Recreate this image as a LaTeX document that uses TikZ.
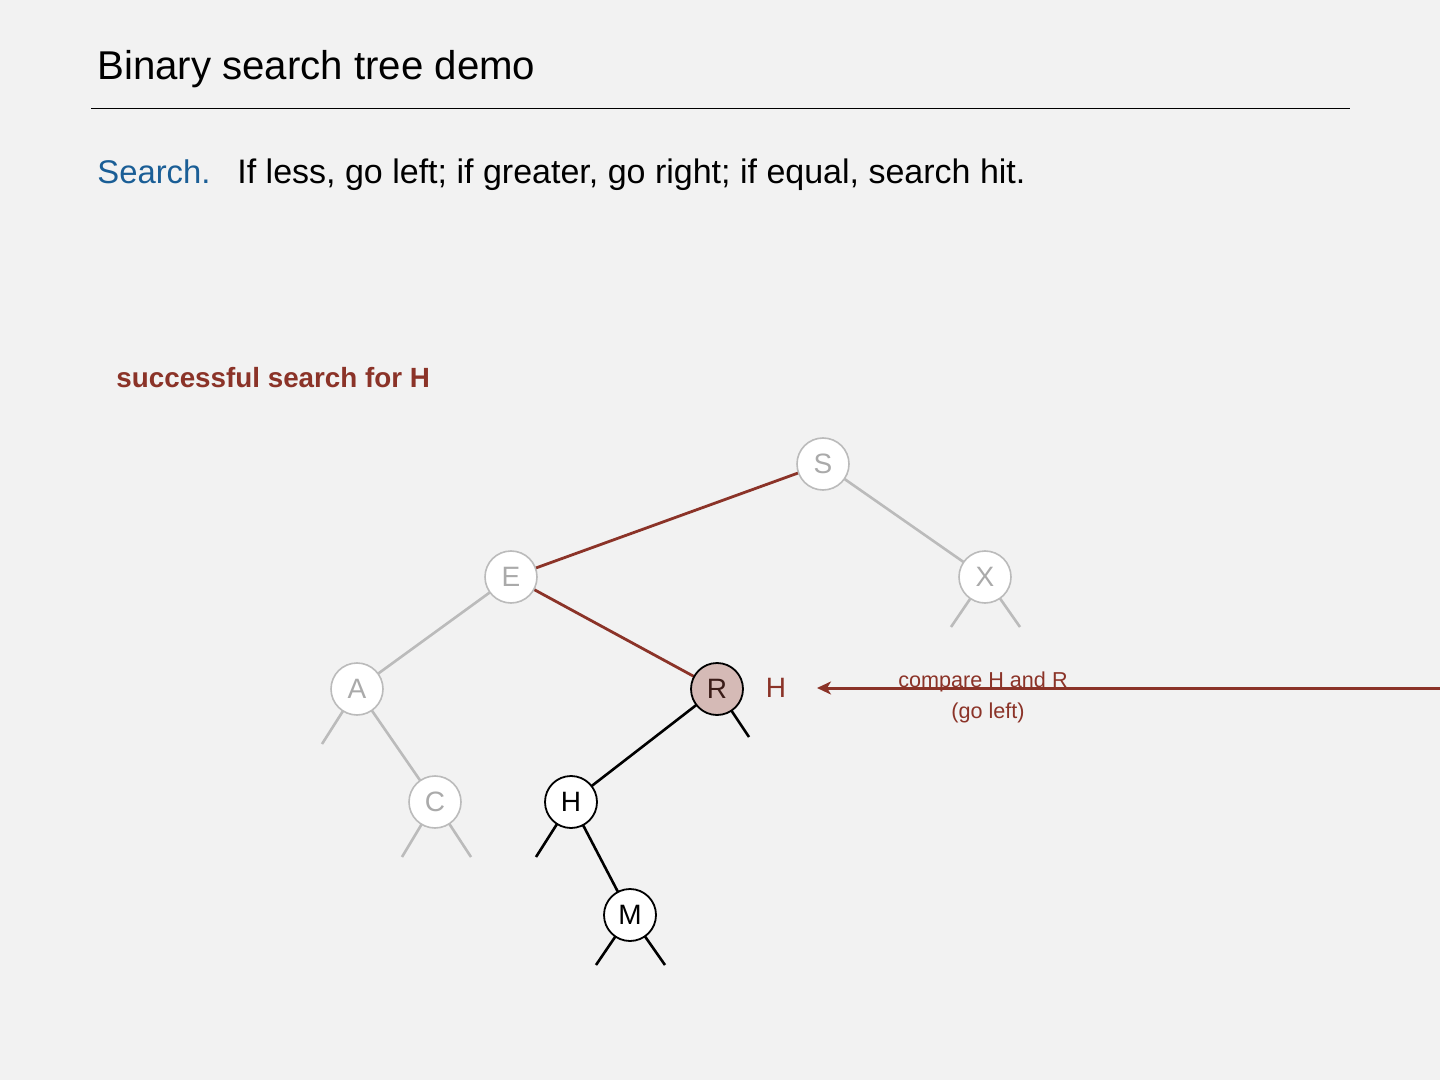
\documentclass[tikz,border=0pt]{standalone}
\usepackage{fontspec}
\setmainfont{Liberation Sans}
\usetikzlibrary{arrows.meta}
\definecolor{bg}{HTML}{F2F2F2}
\definecolor{bstred}{HTML}{8B3328}
\definecolor{bstblue}{HTML}{1A5E96}
\definecolor{lgray}{HTML}{BBBBBB}
\definecolor{tgray}{HTML}{AAAAAA}
\definecolor{rfill}{HTML}{D5BAB6}
\definecolor{rtext}{HTML}{3A1C18}
\tikzset{
  faded/.style={circle,draw=lgray,line width=0.8pt,fill=white,text=tgray,minimum size=26pt,inner sep=0pt,font=\fontsize{14}{14}\selectfont},
  active/.style={circle,draw=black,line width=0.9pt,fill=white,text=black,minimum size=26pt,inner sep=0pt,font=\fontsize{14}{14}\selectfont},
  current/.style={active,fill=rfill,text=rtext},
  grayedge/.style={draw=lgray,line width=1.3pt},
  blackedge/.style={draw=black,line width=1.3pt},
  rededge/.style={draw=bstred,line width=1.4pt},
}
\begin{document}
\begin{tikzpicture}[x=0.5pt,y=-0.5pt]
\fill[bg] (0,0) rectangle (1440,1080);
\useasboundingbox (0,0) rectangle (1440,1080);
% header
\node[anchor=base west,inner sep=0pt,font=\fontsize{20.1}{20.1}\selectfont] (title) at (97,80) {Binary search tree demo};
\coordinate (ruleL) at (91,109);
\coordinate (ruleR) at (1350,109);
\draw[line width=0.5pt] (ruleL) -- (ruleR);
\node[anchor=base west,inner sep=0pt,font=\fontsize{16.4}{16.4}\selectfont,text=bstblue] (srch) at (97,184) {Search.};
\node[anchor=base west,inner sep=0pt,font=\fontsize{17}{17}\selectfont] (rule) at (237,184) {If less, go left; if greater, go right; if equal, search hit.};
\node[anchor=base west,inner sep=0pt,font=\bfseries\fontsize{13.9}{13.9}\selectfont,text=bstred] (cap) at (116,388) {successful search for H};
% edges first (nodes drawn on top)
\coordinate (pS) at (823,464);
\coordinate (pE) at (511,577);
\coordinate (pX) at (985,577);
\coordinate (pA) at (357,689);
\coordinate (pR) at (717,689);
\coordinate (pC) at (435,802);
\coordinate (pH) at (571,802);
\coordinate (pM) at (630,915);
\coordinate (xl) at (951,627);
\coordinate (xr) at (1020,627);
\coordinate (al) at (322,744);
\coordinate (rr) at (749,737);
\coordinate (cl) at (402,857);
\coordinate (cr) at (471,857);
\coordinate (hl) at (536,857);
\coordinate (ml) at (596,965);
\coordinate (mr) at (665,965);
\draw[rededge] (pS) -- (pE);
\draw[grayedge] (pS) -- (pX);
\draw[grayedge] (pE) -- (pA);
\draw[rededge] (pE) -- (pR);
\draw[grayedge] (pA) -- (pC);
\draw[blackedge] (pR) -- (pH);
\draw[blackedge] (pH) -- (pM);
\draw[grayedge] (pX) -- (xl);
\draw[grayedge] (pX) -- (xr);
\draw[grayedge] (pA) -- (al);
\draw[blackedge] (pR) -- (rr);
\draw[grayedge] (pC) -- (cl);
\draw[grayedge] (pC) -- (cr);
\draw[blackedge] (pH) -- (hl);
\draw[blackedge] (pM) -- (ml);
\draw[blackedge] (pM) -- (mr);
% nodes
\node[faded] (S) at (pS) {S};
\node[faded] (E) at (pE) {E};
\node[faded] (X) at (pX) {X};
\node[faded] (A) at (pA) {A};
\node[current] (R) at (pR) {R};
\node[faded] (C) at (pC) {C};
\node[active] (H) at (pH) {H};
\node[active] (M) at (pM) {M};
% search key and comparison
\node[text=bstred,font=\fontsize{14}{14}\selectfont,inner sep=0pt] (key) at (776,688) {H};
\coordinate (arrStart) at (1440,688);
\coordinate (arrEnd) at (817,688);
\draw[bstred,line width=1.5pt,-{Stealth[length=7pt,width=6.5pt,inset=2pt]}] (arrStart) -- (arrEnd);
\node[text=bstred,font=\fontsize{10.8}{10.8}\selectfont,anchor=base,inner sep=0pt] (cmp1) at (983,687) {compare H and R};
\node[text=bstred,font=\fontsize{10.8}{10.8}\selectfont,anchor=base,inner sep=0pt] (cmp2) at (988,718) {(go left)};
\end{tikzpicture}
\end{document}
